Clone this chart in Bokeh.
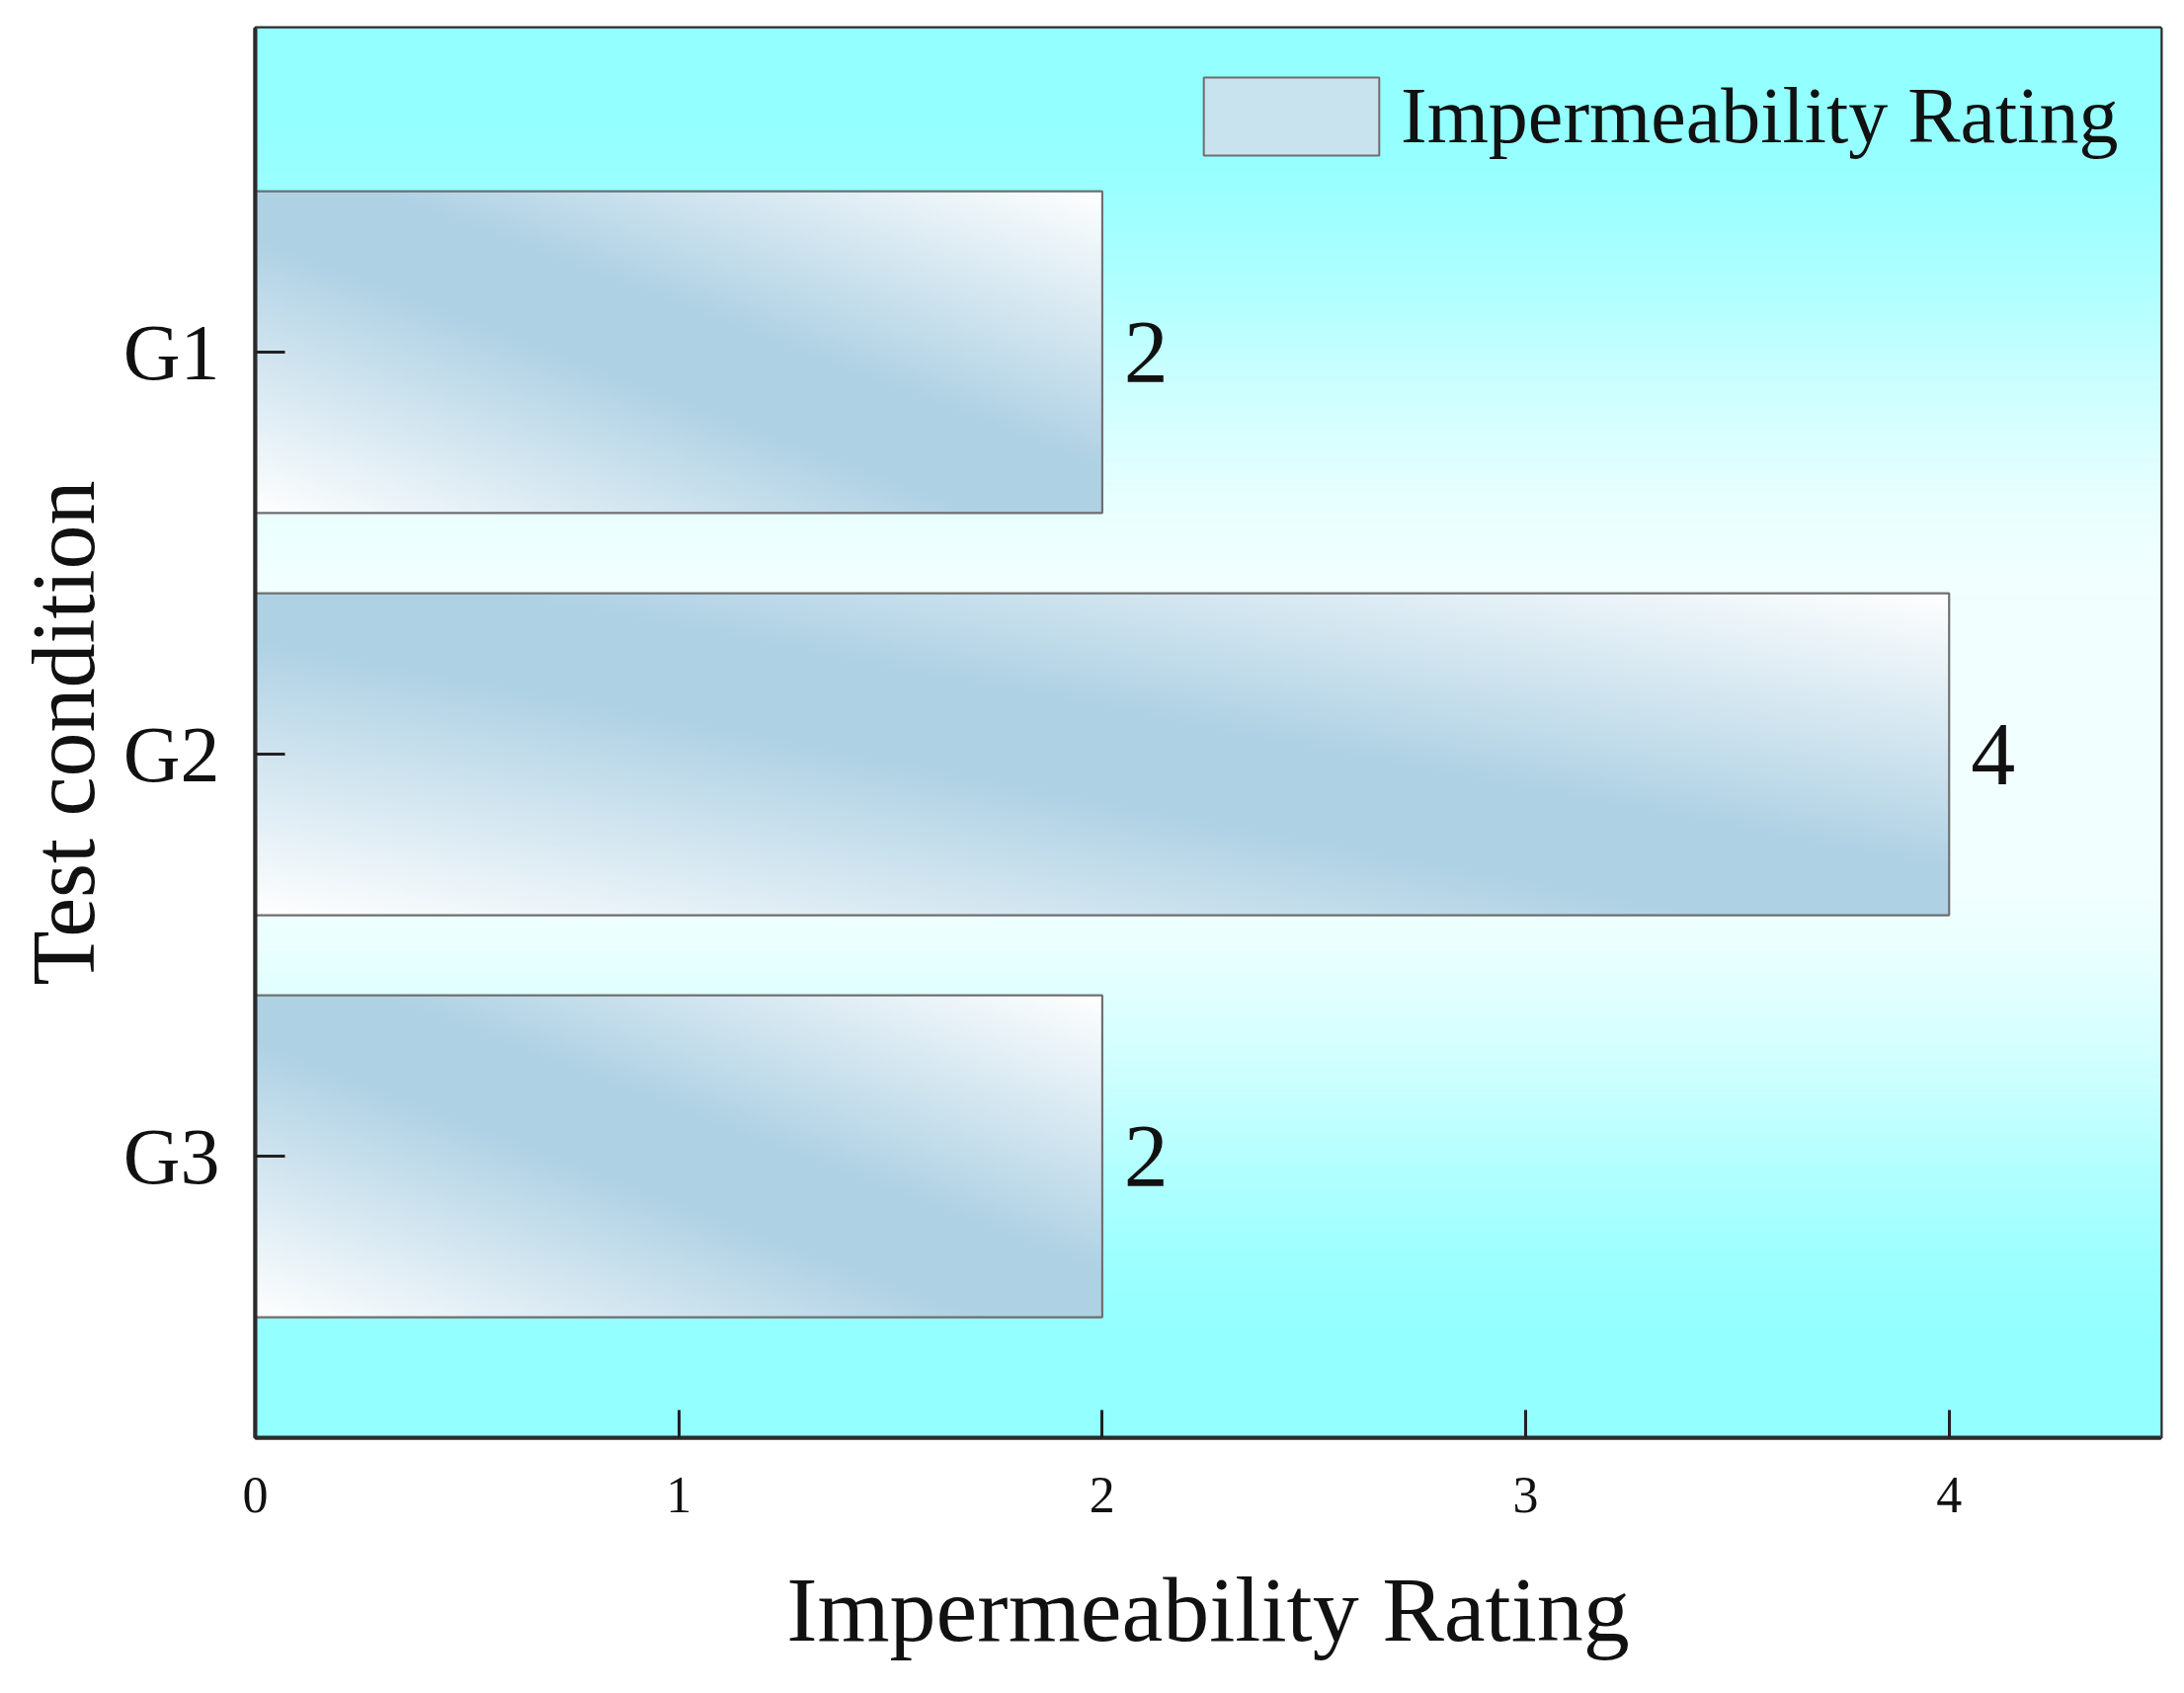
import numpy as np
from bokeh.plotting import figure
from bokeh.models import ColumnDataSource, FixedTicker, Range1d, Legend, LegendItem
from bokeh.core.properties import value
from bokeh.embed import file_html
from bokeh.resources import INLINE

# ---- data ----
conditions = ["G1", "G2", "G3"]
ratings = [2, 4, 2]
x_ticks = [0, 1, 2, 3, 4]
x_label = "Impermeability Rating"
y_label = "Test condition"
legend_label = "Impermeability Rating"

FONT = "Liberation Serif"
n = len(conditions)
ypos = [n - i for i in range(n)]
bar_h = 0.8
x_max = 4.5
y_lo, y_hi = 0.30, 3.806


def to_rgba(arr):
    N, M, _ = arr.shape
    img = np.empty((N, M), dtype=np.uint32)
    view = img.view(dtype=np.uint8).reshape((N, M, 4))
    view[:, :, 0:3] = np.clip(arr, 0, 255).astype(np.uint8)
    view[:, :, 3] = 255
    return img


def smoothstep(a, b, x):
    t = np.clip((x - a) / (b - a), 0, 1)
    return t * t * (3 - 2 * t)


# background: cyan at top/bottom, near white in the middle
Nb = 400
s = np.linspace(0, 1, Nb)[:, None]
d = smoothstep(0.18, 0.9, np.abs(2 * s - 1))
light = np.array([242, 255, 255], float)
cyan = np.array([148, 255, 255], float)
bg = (light[None, None, :] * (1 - d[:, :, None]) + cyan[None, None, :] * d[:, :, None])
bg = np.repeat(bg, 2, axis=1)
bg_img = to_rgba(bg)

# bar texture: white corners (bottom-left / top-right), blue diagonal band
Nr, Mc = 160, 400
u = np.linspace(0, 1, Mc)[None, :]
v = np.linspace(0, 1, Nr)[:, None]
t = (u + v) / 2
w = np.clip((1 - np.abs(2 * t - 1)) * 1.15, 0, 1)
blue = np.array([174, 209, 228], float)
white = np.array([255, 255, 255], float)
tex = white[None, None, :] * (1 - w[:, :, None]) + blue[None, None, :] * w[:, :, None]
tex_img = to_rgba(tex)

p = figure(width=2195, height=1698, output_backend="svg", toolbar_location=None,
           x_range=Range1d(0, x_max), y_range=Range1d(y_lo, y_hi),
           min_border_left=258, min_border_right=8, min_border_top=28,
           min_border_bottom=243)

p.image_rgba(image=[bg_img], x=0, y=y_lo, dw=x_max, dh=y_hi - y_lo)

src = ColumnDataSource(dict(
    cond=conditions,
    rating=ratings,
    y=ypos,
    left=[0] * n,
    bottom=[y - bar_h / 2 for y in ypos],
    top=[y + bar_h / 2 for y in ypos],
    dh=[bar_h] * n,
    img=[tex_img] * n,
    lab=[str(r) for r in ratings],
))

# flat-filled bars (also give the legend swatch); covered by the gradient texture
bars = p.quad(left="left", right="rating", bottom="bottom", top="top", source=src,
              fill_color="#c8e2ee", line_color="#6e6e6e", line_width=2)
p.image_rgba(image="img", x="left", y="bottom", dw="rating", dh="dh", source=src)
p.quad(left="left", right="rating", bottom="bottom", top="top", source=src,
       fill_color=None, line_color="#6e6e6e", line_width=2)

p.text(x="rating", y="y", text="lab", source=src, x_offset=22,
       text_baseline="middle", text_align="left",
       text_font=value(FONT), text_font_size="90px", text_color="#111111")

legend = Legend(items=[LegendItem(label=legend_label, renderers=[bars])],
                location=(938, 1282), orientation="vertical")
legend.glyph_width = 222
legend.glyph_height = 99
legend.label_height = 111
legend.label_standoff = 0
legend.padding = 0
legend.margin = 0
legend.spacing = 0
legend.border_line_color = None
legend.background_fill_alpha = 0
legend.label_text_font = FONT
legend.label_text_font_size = "80px"
legend.label_text_color = "#111111"
p.add_layout(legend)

p.grid.visible = False
p.background_fill_color = "white"
p.border_fill_color = "white"
p.outline_line_color = "#2b2b2b"
p.outline_line_width = 4

# x axis
xa = p.xaxis[0]
xa.ticker = FixedTicker(ticks=x_ticks)
xa.axis_label = x_label
xa.axis_label_text_font = FONT
xa.axis_label_text_font_size = "94px"
xa.axis_label_text_font_style = "normal"
xa.axis_label_text_color = "#111111"
xa.axis_label_standoff = 43
xa.major_label_text_font = FONT
xa.major_label_text_font_size = "52px"
xa.major_label_text_color = "#111111"
xa.major_label_standoff = 40
xa.major_tick_in = 28
xa.major_tick_out = 0
xa.major_tick_line_width = 3
xa.major_tick_line_color = "#222222"
xa.minor_tick_line_color = None
xa.axis_line_width = 4
xa.axis_line_color = "#2b2b2b"

# y axis
ya = p.yaxis[0]
ya.ticker = FixedTicker(ticks=ypos)
ya.major_label_overrides = {y: c for y, c in zip(ypos, conditions)}
ya.axis_label = y_label
ya.axis_label_text_font = FONT
ya.axis_label_text_font_size = "90px"
ya.axis_label_text_font_style = "normal"
ya.axis_label_text_color = "#111111"
ya.axis_label_standoff = 8
ya.major_label_text_font = FONT
ya.major_label_text_font_size = "80px"
ya.major_label_text_color = "#111111"
ya.major_label_standoff = 36
ya.major_tick_in = 30
ya.major_tick_out = 0
ya.major_tick_line_width = 3
ya.major_tick_line_color = "#222222"
ya.minor_tick_line_color = None
ya.axis_line_width = 4
ya.axis_line_color = "#2b2b2b"

open("out.html", "w").write(file_html(p, INLINE))
